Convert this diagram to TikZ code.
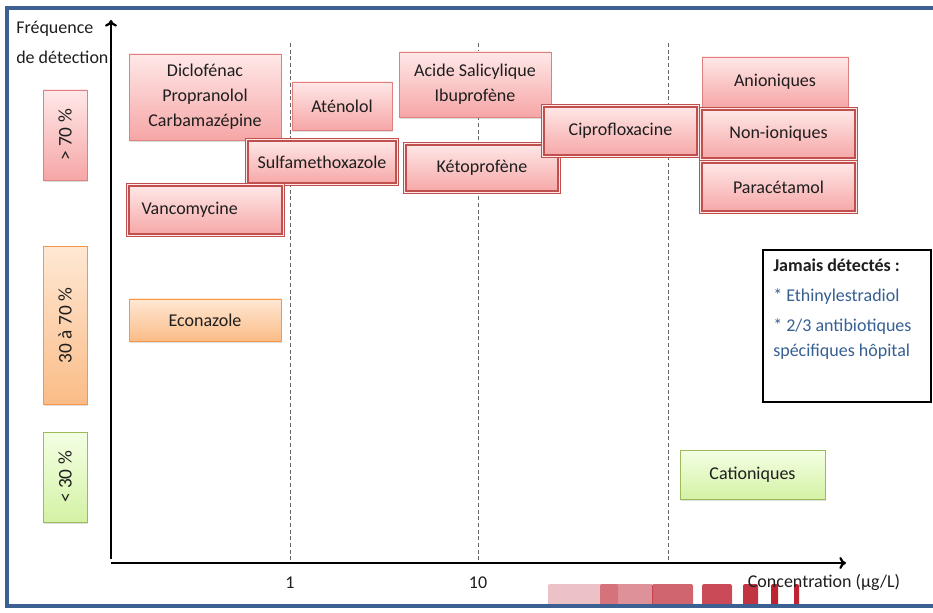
\documentclass[tikz,border=0pt]{standalone}
\usepackage{fontspec}
\setmainfont{Carlito}
\usepackage{tikz}
\usetikzlibrary{shadows,calc,arrows.meta}

\definecolor{txt}{RGB}{30,30,30}
\definecolor{bluetxt}{RGB}{54,96,146}
\definecolor{frameblue}{RGB}{60,96,145}
\definecolor{pinktop}{RGB}{255,232,232}
\definecolor{pinkbot}{RGB}{246,166,166}
\definecolor{pinkedge}{RGB}{222,128,128}
\definecolor{rededge}{RGB}{192,80,77}
\definecolor{orangetop}{RGB}{255,232,212}
\definecolor{orangebot}{RGB}{250,188,135}
\definecolor{orangeedge}{RGB}{247,150,70}
\definecolor{greentop}{RGB}{244,255,228}
\definecolor{greenbot}{RGB}{212,242,165}
\definecolor{greenedge}{RGB}{155,187,89}
\definecolor{barred}{RGB}{190,35,50}

\begin{document}
\begin{tikzpicture}[x=0.75pt, y=-0.75pt,
    lbl/.style={font=\fontsize{13.5}{18.75}\selectfont, text=txt},
    pinkbox/.style={lbl, rectangle, draw=pinkedge, line width=0.7pt, top color=pinktop, bottom color=pinkbot, align=center,
        drop shadow={shadow xshift=1pt, shadow yshift=-1.2pt, opacity=0.25}},
    dblbox/.style={pinkbox, draw=rededge, line width=1.1pt, double=pinktop, double distance=0.8pt},
    orangebox/.style={pinkbox, draw=orangeedge, top color=orangetop, bottom color=orangebot},
    greenbox/.style={pinkbox, draw=greenedge, top color=greentop, bottom color=greenbot},
    catbox/.style={rotate=90, minimum height=33pt, font=\fontsize{14.5}{18.75}\selectfont},
    guide/.style={densely dashed, gray!80!black, line width=0.5pt},
    axis/.style={-{To[length=5pt, width=9pt]}, line width=1.7pt}
]
\useasboundingbox (0,0) rectangle (933,613);

% Frame
\draw[frameblue, line width=2.3pt] (933,8) -- (7,8) -- (7,606) -- (933,606);

% Logo bars
\foreach \xa/\xb/\op in {548/618/0.28, 600/653/0.5, 652/693/0.7, 702/732/0.82, 743/758/0.92, 771/778/1, 794/799/1}
    \fill[barred, opacity=\op, rounded corners=1.5pt] (\xa,584) rectangle (\xb,606);
\draw[frameblue, line width=2.3pt] (548,606) -- (810,606);

% Axes
\coordinate (origin) at (111,563);
\coordinate (ytop) at (111,20);
\coordinate (xend) at (846,563);
\draw[axis] (111,559) -- (ytop);
\draw[axis] (origin) -- (xend);

% Guides
\foreach \gx in {290,478,668}
    \draw[guide] (\gx,43) -- (\gx,563);

% Axis labels
\node[lbl, anchor=north west, align=left, inner sep=0pt] (freq) at (16,21) {Fréquence\\[3.5pt]de détection};
\node[lbl] (conc) at (824,582) {Concentration (µg/L)};
\node[lbl] (t1) at (290,583) {1};
\node[lbl] (t10) at (478,583) {10};

% Frequency classes
\node[pinkbox, catbox, minimum width=67.5pt] (high) at (65,135) {> 70 \%};
\node[orangebox, catbox, minimum width=119pt] (mid) at (65,325.5) {30 à 70 \%};
\node[greenbox, catbox, minimum width=67.5pt] (low) at (65,477) {< 30 \%};

% Compounds
\node[pinkbox, minimum width=114pt, minimum height=64.5pt] (diclo) at (205,97) {Diclofénac\\Propranolol\\Carbamazépine};
\node[pinkbox, minimum width=75pt, minimum height=36pt] (ateno) at (342,106) {Aténolol};
\node[pinkbox, minimum width=114pt, minimum height=48.75pt] (acide) at (475,84.5) {Acide Salicylique\\Ibuprofène};
\node[pinkbox, minimum width=109.5pt, minimum height=37.5pt] (anio) at (775,82) {Anioniques};
\node[dblbox, minimum width=113pt, minimum height=33.5pt] (sulfa) at (322,162) {Sulfamethoxazole};
\node[dblbox, minimum width=116.5pt, minimum height=38pt, text width=96pt, align=left, inner xsep=9pt] (vanco) at (205.5,210) {Vancomycine};
\node[dblbox, minimum width=116pt, minimum height=36.5pt] (keto) at (482,168) {Kétoprofène};
\node[dblbox, minimum width=116.5pt, minimum height=38pt] (cipro) at (620.5,131) {Ciprofloxacine};
\node[dblbox, minimum width=116.5pt, minimum height=38pt] (nonio) at (778.5,134) {Non-ioniques};
\node[dblbox, minimum width=116.5pt, minimum height=38pt] (parac) at (778.5,187) {Paracétamol};
\node[orangebox, minimum width=114pt, minimum height=31.5pt] (econa) at (205,320) {Econazole};
\node[greenbox, minimum width=108.75pt, minimum height=36.75pt] (catio) at (752.5,474.5) {Cationiques};

% Never detected
\node[draw=black, line width=1.4pt, fill=white, minimum width=126pt, minimum height=114pt] (jamais) at (847,326) {};
\node[lbl, anchor=north west, align=left, inner sep=0pt] (jamaistxt) at (773,259)
    {\textbf{Jamais détectés :}\\[3.5pt]
     \textcolor{bluetxt}{* Ethinylestradiol}\\[3.5pt]
     \textcolor{bluetxt}{* 2/3 antibiotiques}\\
     \textcolor{bluetxt}{spécifiques hôpital}};

\end{tikzpicture}
\end{document}
